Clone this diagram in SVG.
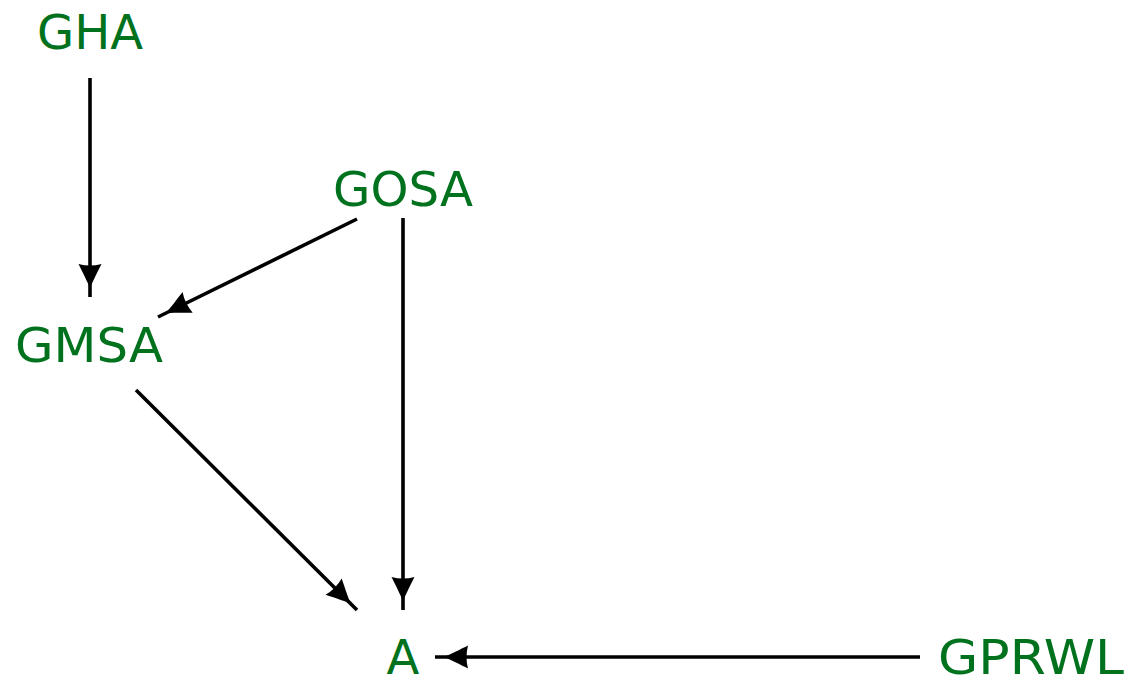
<svg xmlns="http://www.w3.org/2000/svg" width="1126" height="677" viewBox="0 0 1126 677">
<style>
.lbl{font-family:"DejaVu Sans",sans-serif;font-size:48px;fill:#00721e;text-anchor:middle}
.edge{stroke:#000;stroke-width:3.6;fill:none;marker-end:url(#ah)}
</style>
<defs>
<marker id="ah" markerUnits="userSpaceOnUse" viewBox="-40 -15 45 30" refX="0" refY="0" markerWidth="45" markerHeight="30" orient="auto">
<path d="M-9,0 C-16,-3 -26,-8 -33,-11.5 Q-30,0 -33,11.5 C-26,8 -16,3 -9,0 Z" fill="#000"/>
</marker>
</defs>
<rect width="1126" height="677" fill="#fff"/>
<g id="connectors">
<line class="edge" x1="90" y1="78" x2="90" y2="297"/>
<line class="edge" x1="357" y1="219" x2="158" y2="317"/>
<line class="edge" x1="403" y1="218" x2="403" y2="610"/>
<line class="edge" x1="136" y1="390" x2="357" y2="610"/>
<line class="edge" x1="920" y1="657" x2="435" y2="657"/>
</g>
<g id="GHA"><text class="lbl" x="90" y="49">GHA</text></g>
<g id="GOSA"><text class="lbl" x="403" y="206" textLength="140" lengthAdjust="spacingAndGlyphs">GOSA</text></g>
<g id="GMSA"><text class="lbl" x="89" y="362" textLength="148" lengthAdjust="spacingAndGlyphs">GMSA</text></g>
<g id="A"><text class="lbl" x="403" y="674">A</text></g>
<g id="GPRWL"><text class="lbl" x="1031" y="674" textLength="186" lengthAdjust="spacingAndGlyphs">GPRWL</text></g>
</svg>
